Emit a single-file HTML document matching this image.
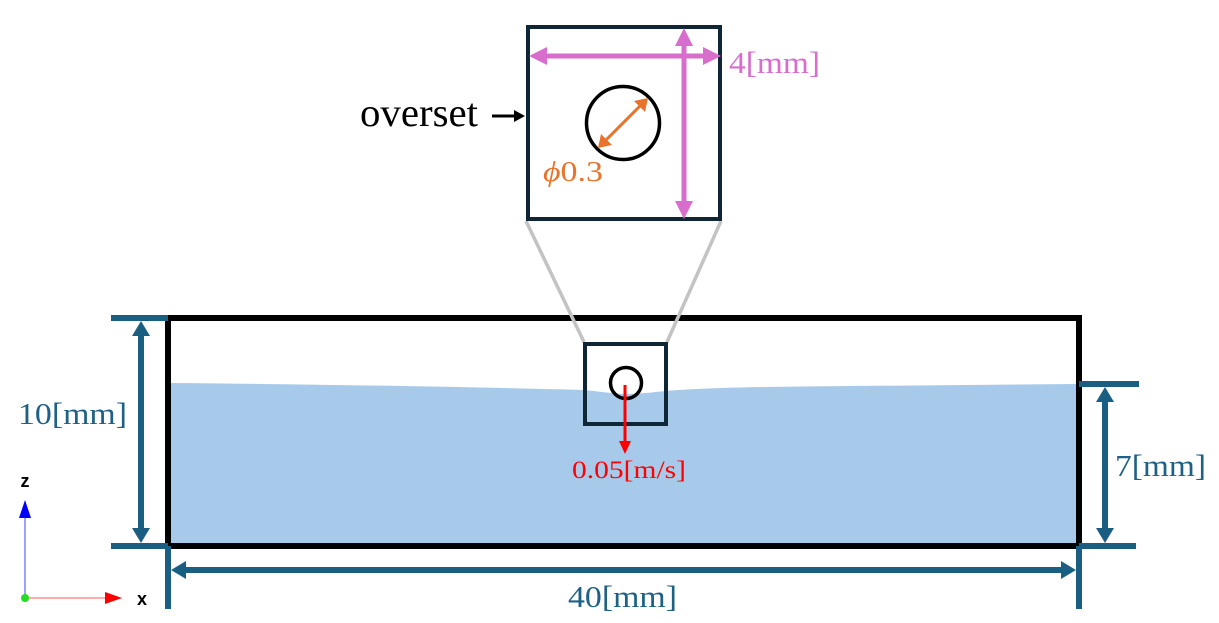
<!DOCTYPE html>
<html><head><meta charset="utf-8"><style>
html,body{margin:0;padding:0;background:#fff;}
svg{display:block;}
text{font-family:"Liberation Serif",serif;}
</style></head><body>
<svg width="1219" height="623" viewBox="0 0 1219 623" xmlns="http://www.w3.org/2000/svg">
<!-- water -->
<path d="M171,383 C300,384 480,387 584,390 C605,392 615,394 625,394 C640,394 655,392 666,391 C690,389 720,387.5 800,386.5 L1076,384 L1076,543 L171,543 Z" fill="#a8caea"/>
<!-- main box -->
<rect x="168" y="318" width="911" height="228" fill="none" stroke="#000" stroke-width="6"/>
<!-- gray zoom lines -->
<line x1="526" y1="221" x2="584" y2="342" stroke="#c3c3c3" stroke-width="3.5"/>
<line x1="721" y1="221" x2="667" y2="342" stroke="#c3c3c3" stroke-width="3.5"/>
<!-- small overset box -->
<rect x="585" y="344" width="81" height="80" fill="none" stroke="#0e2636" stroke-width="4"/>
<circle cx="626" cy="383" r="15.5" fill="none" stroke="#000" stroke-width="3.5"/>
<!-- red velocity arrow -->
<line x1="625" y1="385" x2="625" y2="442" stroke="#ff0000" stroke-width="3"/>
<polygon points="619,441 631,441 625,454" fill="#ff0000"/>
<text x="572" y="478" font-size="25" fill="#ff0000" textLength="114" lengthAdjust="spacingAndGlyphs">0.05[m/s]</text>

<!-- dimension lines (blue) -->
<g stroke="#1a5f82" stroke-width="6" fill="none">
<line x1="111" y1="318" x2="168" y2="318"/>
<line x1="111" y1="546" x2="168" y2="546"/>
<line x1="141" y1="334" x2="141" y2="530"/>
<line x1="168" y1="546" x2="168" y2="609"/>
<line x1="1079" y1="546" x2="1079" y2="609"/>
<line x1="184" y1="570" x2="1063" y2="570"/>
<line x1="1079" y1="384" x2="1139" y2="384"/>
<line x1="1079" y1="546" x2="1136" y2="546"/>
<line x1="1105" y1="400" x2="1105" y2="530"/>
</g>
<g fill="#1a5f82">
<polygon points="132,336 150,336 141,321"/>
<polygon points="132,528 150,528 141,543"/>
<polygon points="186,561 186,579 171,570"/>
<polygon points="1061,561 1061,579 1076,570"/>
<polygon points="1096,402 1114,402 1105,387"/>
<polygon points="1096,528 1114,528 1105,543"/>
</g>
<g fill="#1f6184" font-size="31">
<text x="18" y="424" textLength="109" lengthAdjust="spacingAndGlyphs">10[mm]</text>
<text x="1115" y="476" textLength="91" lengthAdjust="spacingAndGlyphs">7[mm]</text>
<text x="568" y="607" textLength="109" lengthAdjust="spacingAndGlyphs">40[mm]</text>
</g>

<!-- inset box -->
<rect x="528" y="27" width="192" height="192" fill="#fff" stroke="#0e2636" stroke-width="4"/>
<circle cx="623" cy="123" r="36.5" fill="none" stroke="#000" stroke-width="3.5"/>
<!-- orange diameter arrow -->
<line x1="605" y1="141" x2="641" y2="105" stroke="#e8732c" stroke-width="3"/>
<polygon points="598,148 601,134 612,145" fill="#e8732c"/>
<polygon points="648,98 645,112 634,101" fill="#e8732c"/>
<text x="543" y="181" font-size="29" fill="#e8732c" textLength="60" lengthAdjust="spacingAndGlyphs"><tspan font-style="italic">ϕ</tspan>0.3</text>
<!-- pink arrows -->
<g stroke="#d86ecc" stroke-width="5">
<line x1="545" y1="56" x2="705" y2="56"/>
<line x1="684" y1="46" x2="684" y2="203"/>
</g>
<g fill="#d86ecc">
<polygon points="547,47 547,65 529,56"/>
<polygon points="703,47 703,65 721,56"/>
<polygon points="675,46 693,46 684,28"/>
<polygon points="675,201 693,201 684,219"/>
</g>
<text x="729" y="73" font-size="31" fill="#d86ecc" textLength="91" lengthAdjust="spacingAndGlyphs">4[mm]</text>
<!-- overset label -->
<text x="360" y="126" font-size="40" fill="#000" textLength="118" lengthAdjust="spacingAndGlyphs">overset</text>
<line x1="492" y1="116" x2="516" y2="116" stroke="#000" stroke-width="3"/>
<polygon points="514,110 514,122 525,116" fill="#000"/>

<!-- axes -->
<line x1="25" y1="598" x2="25" y2="516" stroke="#8080ff" stroke-width="1.5"/>
<polygon points="19,518 31,518 25,500" fill="#0000ff"/>
<line x1="25" y1="598" x2="106" y2="598" stroke="#ff9090" stroke-width="1.5"/>
<polygon points="105,592 105,604 122,598" fill="#ff0000"/>
<circle cx="25" cy="598" r="4" fill="#22dd22"/>
<text x="25" y="487" font-size="18" font-weight="bold" text-anchor="middle" style="font-family:'Liberation Sans',sans-serif">z</text>
<text x="142" y="605" font-size="18" font-weight="bold" text-anchor="middle" style="font-family:'Liberation Sans',sans-serif">x</text>
</svg>
</body></html>
